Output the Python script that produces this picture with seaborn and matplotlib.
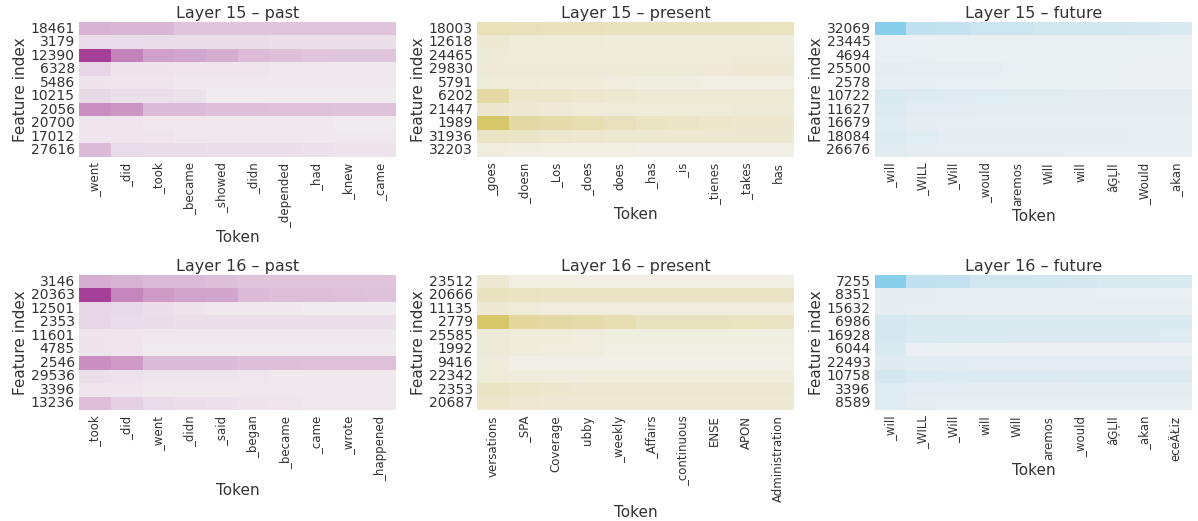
import numpy as np
import pandas as pd
import matplotlib
matplotlib.use("Agg")
import matplotlib.pyplot as plt
import seaborn as sns

sns.set_theme(style="white")
plt.rcParams['font.family'] = ['DejaVu Sans']

# ---------------- data ----------------
l15_past_rows = ["18461", "3179", "12390", "6328", "5486", "10215", "2056", "20700", "17012", "27616"]
l15_past_tokens = ["_went", "_did", "_took", "_became", "_showed", "_didn", "_depended", "_had", "_knew", "_came"]
l15_past_vals = [
    [0.35, 0.33, 0.33, 0.25, 0.25, 0.25, 0.25, 0.25, 0.25, 0.25],
    [0.12, 0.12, 0.11, 0.11, 0.11, 0.11, 0.10, 0.10, 0.10, 0.10],
    [1.00, 0.62, 0.45, 0.42, 0.38, 0.30, 0.27, 0.25, 0.24, 0.24],
    [0.15, 0.07, 0.07, 0.06, 0.06, 0.06, 0.04, 0.04, 0.04, 0.04],
    [0.07, 0.06, 0.06, 0.05, 0.05, 0.04, 0.04, 0.04, 0.04, 0.04],
    [0.13, 0.09, 0.09, 0.08, 0.03, 0.03, 0.03, 0.03, 0.03, 0.03],
    [0.55, 0.50, 0.30, 0.30, 0.28, 0.28, 0.27, 0.27, 0.26, 0.26],
    [0.06, 0.06, 0.05, 0.04, 0.04, 0.04, 0.04, 0.04, 0.03, 0.03],
    [0.06, 0.06, 0.06, 0.05, 0.05, 0.05, 0.05, 0.05, 0.04, 0.04],
    [0.30, 0.12, 0.11, 0.11, 0.10, 0.10, 0.09, 0.08, 0.07, 0.07],
]

l15_present_rows = ["18003", "12618", "24465", "29830", "5791", "6202", "21447", "1989", "31936", "32203"]
l15_present_tokens = ["_goes", "_doesn", "_Los", "_does", "does", "_has", "_is", "_tienes", "_takes", "has"]
l15_present_vals = [
    [0.40, 0.38, 0.37, 0.36, 0.35, 0.35, 0.34, 0.34, 0.34, 0.33],
    [0.20, 0.13, 0.13, 0.13, 0.12, 0.12, 0.12, 0.12, 0.12, 0.12],
    [0.15, 0.14, 0.14, 0.14, 0.14, 0.14, 0.14, 0.14, 0.15, 0.15],
    [0.16, 0.15, 0.15, 0.15, 0.15, 0.15, 0.15, 0.16, 0.18, 0.18],
    [0.14, 0.13, 0.12, 0.12, 0.10, 0.08, 0.08, 0.06, 0.06, 0.06],
    [0.55, 0.25, 0.25, 0.22, 0.20, 0.18, 0.18, 0.18, 0.18, 0.17],
    [0.22, 0.17, 0.16, 0.13, 0.13, 0.13, 0.14, 0.14, 0.15, 0.15],
    [1.00, 0.55, 0.50, 0.45, 0.38, 0.30, 0.28, 0.25, 0.22, 0.22],
    [0.30, 0.28, 0.24, 0.22, 0.20, 0.20, 0.20, 0.20, 0.20, 0.20],
    [0.10, 0.08, 0.07, 0.07, 0.07, 0.04, 0.04, 0.03, 0.03, 0.03],
]

l15_future_rows = ["32069", "23445", "4694", "25500", "2578", "10722", "11627", "16679", "18084", "26676"]
l15_future_tokens = ["_will", "_WILL", "_Will", "_would", "aremos", "Will", "will", "âĢĻll", "_Would", "_akan"]
l15_future_vals = [
    [1.00, 0.45, 0.42, 0.35, 0.35, 0.30, 0.28, 0.28, 0.25, 0.20],
    [0.06, 0.06, 0.05, 0.05, 0.05, 0.05, 0.05, 0.05, 0.05, 0.05],
    [0.06, 0.06, 0.04, 0.04, 0.04, 0.04, 0.04, 0.04, 0.04, 0.04],
    [0.10, 0.09, 0.09, 0.08, 0.06, 0.05, 0.05, 0.04, 0.03, 0.02],
    [0.07, 0.07, 0.06, 0.06, 0.05, 0.05, 0.05, 0.04, 0.03, 0.03],
    [0.20, 0.17, 0.16, 0.15, 0.14, 0.14, 0.13, 0.12, 0.12, 0.12],
    [0.17, 0.13, 0.12, 0.10, 0.10, 0.10, 0.10, 0.10, 0.10, 0.10],
    [0.15, 0.10, 0.09, 0.09, 0.08, 0.08, 0.08, 0.08, 0.08, 0.08],
    [0.17, 0.15, 0.11, 0.11, 0.10, 0.10, 0.10, 0.10, 0.09, 0.09],
    [0.14, 0.10, 0.09, 0.09, 0.08, 0.08, 0.07, 0.07, 0.07, 0.07],
]

l16_past_rows = ["3146", "20363", "12501", "2353", "11601", "4785", "2546", "29536", "3396", "13236"]
l16_past_tokens = ["_took", "_did", "_went", "_didn", "_said", "_began", "_became", "_came", "_wrote", "_happened"]
l16_past_vals = [
    [0.38, 0.34, 0.30, 0.30, 0.28, 0.25, 0.25, 0.25, 0.25, 0.25],
    [1.00, 0.60, 0.48, 0.43, 0.42, 0.30, 0.28, 0.28, 0.27, 0.26],
    [0.15, 0.13, 0.09, 0.07, 0.05, 0.04, 0.04, 0.03, 0.03, 0.03],
    [0.15, 0.12, 0.11, 0.10, 0.10, 0.10, 0.10, 0.10, 0.09, 0.09],
    [0.07, 0.06, 0.05, 0.04, 0.04, 0.04, 0.04, 0.04, 0.04, 0.04],
    [0.07, 0.06, 0.03, 0.03, 0.03, 0.03, 0.03, 0.03, 0.03, 0.03],
    [0.55, 0.48, 0.30, 0.30, 0.30, 0.28, 0.28, 0.27, 0.27, 0.27],
    [0.09, 0.08, 0.07, 0.07, 0.07, 0.06, 0.05, 0.05, 0.05, 0.05],
    [0.06, 0.06, 0.05, 0.05, 0.05, 0.04, 0.04, 0.04, 0.04, 0.04],
    [0.28, 0.18, 0.12, 0.10, 0.08, 0.07, 0.06, 0.05, 0.05, 0.05],
]

l16_present_rows = ["23512", "20666", "11135", "2779", "25585", "1992", "9416", "22342", "2353", "20687"]
l16_present_tokens = ["versations", "_SPA", "Coverage", "ubby", "_weekly", "_Affairs", "_continuous", "ENSE", "APON", "Administration"]
l16_present_vals = [
    [0.20, 0.07, 0.07, 0.06, 0.06, 0.06, 0.06, 0.06, 0.06, 0.06],
    [0.35, 0.32, 0.30, 0.30, 0.30, 0.30, 0.30, 0.30, 0.30, 0.30],
    [0.17, 0.14, 0.10, 0.10, 0.10, 0.10, 0.10, 0.10, 0.10, 0.10],
    [1.00, 0.60, 0.55, 0.50, 0.45, 0.35, 0.35, 0.35, 0.33, 0.30],
    [0.15, 0.12, 0.12, 0.10, 0.08, 0.08, 0.08, 0.08, 0.08, 0.08],
    [0.15, 0.12, 0.10, 0.10, 0.06, 0.06, 0.06, 0.06, 0.06, 0.06],
    [0.12, 0.04, 0.04, 0.04, 0.04, 0.04, 0.04, 0.04, 0.04, 0.04],
    [0.14, 0.12, 0.12, 0.12, 0.12, 0.12, 0.12, 0.12, 0.12, 0.12],
    [0.30, 0.25, 0.22, 0.20, 0.20, 0.20, 0.20, 0.20, 0.20, 0.20],
    [0.25, 0.20, 0.18, 0.18, 0.18, 0.18, 0.18, 0.18, 0.18, 0.18],
]

l16_future_rows = ["7255", "8351", "15632", "6986", "16928", "6044", "22493", "10758", "3396", "8589"]
l16_future_tokens = ["_will", "_WILL", "_Will", "will", "Will", "aremos", "_would", "âĢĻll", "_akan", "eceÄŁiz"]
l16_future_vals = [
    [1.00, 0.45, 0.42, 0.30, 0.30, 0.28, 0.25, 0.22, 0.22, 0.20],
    [0.10, 0.10, 0.09, 0.08, 0.08, 0.07, 0.07, 0.06, 0.06, 0.06],
    [0.10, 0.09, 0.09, 0.09, 0.08, 0.08, 0.08, 0.08, 0.08, 0.08],
    [0.25, 0.22, 0.22, 0.20, 0.20, 0.20, 0.20, 0.20, 0.20, 0.20],
    [0.25, 0.20, 0.20, 0.20, 0.18, 0.18, 0.18, 0.18, 0.18, 0.15],
    [0.20, 0.06, 0.04, 0.03, 0.03, 0.03, 0.03, 0.02, 0.02, 0.02],
    [0.16, 0.14, 0.14, 0.13, 0.13, 0.13, 0.12, 0.12, 0.12, 0.12],
    [0.25, 0.20, 0.18, 0.18, 0.18, 0.18, 0.17, 0.17, 0.17, 0.17],
    [0.15, 0.12, 0.12, 0.10, 0.10, 0.10, 0.10, 0.10, 0.10, 0.10],
    [0.15, 0.10, 0.09, 0.09, 0.09, 0.09, 0.09, 0.09, 0.09, 0.09],
]

panels = [
    ("Layer 15 – past", l15_past_rows, l15_past_tokens, l15_past_vals, "#a63f98"),
    ("Layer 15 – present", l15_present_rows, l15_present_tokens, l15_present_vals, "#d8c66a"),
    ("Layer 15 – future", l15_future_rows, l15_future_tokens, l15_future_vals, "#87ceeb"),
    ("Layer 16 – past", l16_past_rows, l16_past_tokens, l16_past_vals, "#a63f98"),
    ("Layer 16 – present", l16_present_rows, l16_present_tokens, l16_present_vals, "#d8c66a"),
    ("Layer 16 – future", l16_future_rows, l16_future_tokens, l16_future_vals, "#87ceeb"),
]

fig, axes = plt.subplots(2, 3, figsize=(11.98, 5.21), dpi=100)
for ax, (title, rows, toks, vals, color) in zip(axes.flat, panels):
    df = pd.DataFrame(vals, index=rows, columns=toks)
    cmap = sns.light_palette(color, as_cmap=True)
    sns.heatmap(df, ax=ax, cmap=cmap, cbar=False, vmin=0, vmax=1)
    ax.set_title(title, fontsize=11.5, color="#333333", pad=3)
    ax.set_xlabel("Token", fontsize=11, color="#333333", labelpad=2)
    ax.set_ylabel("Feature index", fontsize=11, color="#333333", labelpad=2)
    ax.tick_params(axis="y", labelsize=10, rotation=0, length=0, pad=3, labelcolor="#333333")
    ax.tick_params(axis="x", labelsize=8.5, rotation=90, length=0, pad=4, labelcolor="#333333")

fig.subplots_adjust(left=0.066, right=0.995, top=0.958, bottom=0.213, wspace=0.254, hspace=0.874)
fig.savefig("out.png", dpi=100)
